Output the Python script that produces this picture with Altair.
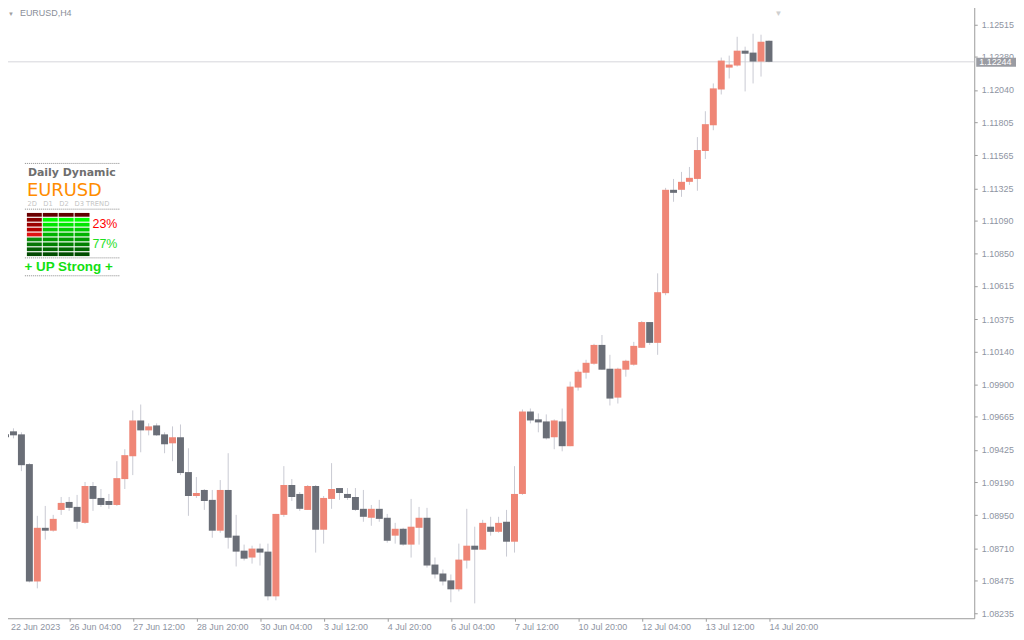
import altair as alt
import pandas as pd

# ---------------- data (EURUSD, H4) ----------------
opens = [1.09537, 1.09559, 1.09537, 1.09321, 1.08468, 1.08858, 1.08837, 1.08988, 1.09046, 1.09010,
         1.08894, 1.09162, 1.09075, 1.09053, 1.09024, 1.09212, 1.09378, 1.09638, 1.09566, 1.09602,
         1.09537, 1.09472, 1.09516, 1.09263, 1.09089, 1.09133, 1.09061, 1.08837, 1.09133, 1.08801,
         1.08692, 1.08642, 1.08707, 1.08685, 1.08360, 1.08952, 1.09169, 1.09104, 1.08988, 1.09162,
         1.08844, 1.09068, 1.09147, 1.09104, 1.09082, 1.08996, 1.08931, 1.08996, 1.08931, 1.08801,
         1.08851, 1.08736, 1.08858, 1.08931, 1.08591, 1.08526, 1.08476, 1.08411, 1.08620, 1.08728,
         1.08699, 1.08866, 1.08829, 1.08902, 1.08757, 1.09104, 1.09703, 1.09646, 1.09631, 1.09516,
         1.09631, 1.09451, 1.09877, 1.09985, 1.10050, 1.10187, 1.10014, 1.09804, 1.10007, 1.10043,
         1.10166, 1.10353, 1.10202, 1.10563, 1.11314, 1.11314, 1.11372, 1.11393, 1.11596, 1.11783,
         1.12043, 1.12202, 1.12217, 1.12325, 1.12311, 1.12246, 1.12397]

closes = [1.09516, 1.09530, 1.09313, 1.08468, 1.08858, 1.08837, 1.08923, 1.09039, 1.09003, 1.08902,
          1.09162, 1.09068, 1.09024, 1.09024, 1.09219, 1.09386, 1.09638, 1.09566, 1.09595, 1.09530,
          1.09465, 1.09516, 1.09256, 1.09089, 1.09111, 1.09053, 1.08837, 1.09133, 1.08786, 1.08685,
          1.08634, 1.08707, 1.08678, 1.08360, 1.08959, 1.09169, 1.09082, 1.08996, 1.09162, 1.08844,
          1.09075, 1.09140, 1.09111, 1.09075, 1.08988, 1.08938, 1.08996, 1.08923, 1.08764, 1.08851,
          1.08736, 1.08866, 1.08931, 1.08584, 1.08519, 1.08468, 1.08411, 1.08627, 1.08728, 1.08699,
          1.08894, 1.08829, 1.08894, 1.08757, 1.09104, 1.09703, 1.09638, 1.09624, 1.09508, 1.09638,
          1.09451, 1.09884, 1.09992, 1.10057, 1.10187, 1.10007, 1.09797, 1.10014, 1.10072, 1.10180,
          1.10353, 1.10202, 1.10570, 1.11314, 1.11292, 1.11372, 1.11401, 1.11603, 1.11791, 1.12051,
          1.12253, 1.12224, 1.12325, 1.12303, 1.12246, 1.12390, 1.12244]

highs = [1.09602, 1.09581, 1.09552, 1.09328, 1.08945, 1.09017, 1.08952, 1.09082, 1.09082, 1.09097,
         1.09191, 1.09191, 1.09140, 1.09104, 1.09342, 1.09429, 1.09711, 1.09754, 1.09617, 1.09617,
         1.09552, 1.09595, 1.09609, 1.09436, 1.09227, 1.09140, 1.09133, 1.09205, 1.09400, 1.08952,
         1.08736, 1.08728, 1.08743, 1.08743, 1.08959, 1.09306, 1.09212, 1.09118, 1.09169, 1.09169,
         1.09089, 1.09328, 1.09147, 1.09147, 1.09147, 1.09133, 1.09024, 1.09061, 1.08959, 1.08894,
         1.08858, 1.09068, 1.09010, 1.09003, 1.08642, 1.08555, 1.08519, 1.08743, 1.08996, 1.08866,
         1.08916, 1.08938, 1.08938, 1.08988, 1.09306, 1.09718, 1.09725, 1.09689, 1.09682, 1.09646,
         1.09725, 1.09920, 1.10007, 1.10079, 1.10195, 1.10259, 1.10115, 1.10021, 1.10079, 1.10209,
         1.10361, 1.10353, 1.10707, 1.11328, 1.11393, 1.11444, 1.11480, 1.11697, 1.11885, 1.12087,
         1.12275, 1.12289, 1.12426, 1.12354, 1.12448, 1.12441, 1.12400]

lows = [1.09479, 1.09508, 1.09270, 1.08461, 1.08418, 1.08772, 1.08830, 1.08952, 1.08981, 1.08851,
        1.08887, 1.08981, 1.09010, 1.08996, 1.09017, 1.09140, 1.09241, 1.09407, 1.09530, 1.09525,
        1.09400, 1.09342, 1.09241, 1.08945, 1.09075, 1.08988, 1.08786, 1.08822, 1.08707, 1.08577,
        1.08620, 1.08598, 1.08584, 1.08331, 1.08331, 1.08938, 1.09053, 1.08981, 1.08988, 1.08678,
        1.08743, 1.08996, 1.09061, 1.09061, 1.08981, 1.08902, 1.08873, 1.08902, 1.08750, 1.08743,
        1.08728, 1.08642, 1.08736, 1.08569, 1.08490, 1.08439, 1.08317, 1.08396, 1.08562, 1.08309,
        1.08699, 1.08801, 1.08822, 1.08649, 1.08678, 1.09097, 1.09617, 1.09552, 1.09500, 1.09429,
        1.09414, 1.09451, 1.09855, 1.09942, 1.10043, 1.10007, 1.09747, 1.09761, 1.09956, 1.10036,
        1.10166, 1.10187, 1.10115, 1.10548, 1.11227, 1.11263, 1.11350, 1.11307, 1.11538, 1.11747,
        1.12007, 1.12123, 1.12210, 1.12029, 1.12087, 1.12137, 1.12240]

x_tick_index = [0, 8, 16, 24, 32, 40, 48, 56, 64, 72, 80, 88, 96]
x_tick_labels = ["22 Jun 2023", "26 Jun 04:00", "27 Jun 12:00", "28 Jun 20:00", "30 Jun 04:00",
                 "3 Jul 12:00", "4 Jul 20:00", "6 Jul 04:00", "7 Jul 12:00", "10 Jul 20:00",
                 "12 Jul 04:00", "13 Jul 12:00", "14 Jul 20:00"]
y_ticks = [1.12515, 1.12280, 1.12040, 1.11805, 1.11565, 1.11325, 1.11090, 1.10850, 1.10615,
           1.10375, 1.10140, 1.09900, 1.09665, 1.09425, 1.09190, 1.08950, 1.08710, 1.08475, 1.08235]
last_price = 1.12244
symbol_title = "EURUSD,H4"

# indicator panel content
panel_title = "Daily Dynamic"
panel_symbol = "EURUSD"
panel_columns = ["2D", "D1", "D2", "D3", "TREND"]
panel_down_pct = "23%"
panel_up_pct = "77%"
panel_signal = "+ UP Strong +"
cells_col1 = ["#6a0000", "#880000", "#9c0000", "#b40000", "#e01414",
              "#0c8c0c", "#077607", "#045e04", "#034a03"]
cells_cols234 = ["#620000", "#00ff00", "#00e600", "#00cc00", "#00b300",
                 "#009a00", "#008000", "#006600", "#004e00"]

# ---------------- styles ----------------
UP = "#ef8676"
DOWN = "#6a6e77"
WICK = "#c9cad3"
AXIS = "#9b9b9b"
LABEL = "#8e94a2"
FONT = "Liberation Sans"

df = pd.DataFrame({"k": list(range(len(opens))), "open": opens, "high": highs,
                   "low": lows, "close": closes})
df["dir"] = ["up" if c >= o else "down" for o, c in zip(opens, closes)]

xscale = alt.Scale(domain=[-0.1875, 121.8125], nice=False, zero=False, padding=0)
yscale = alt.Scale(domain=[1.08201, 1.12665], nice=False, zero=False, padding=0)

label_expr = ("[" + ",".join("'%s'" % s for s in x_tick_labels) + "][indexof(["
              + ",".join(str(i) for i in x_tick_index) + "], datum.value)]")

xaxis = alt.Axis(orient="bottom", values=x_tick_index, labelExpr=label_expr, title=None,
                 grid=False, labelAlign="left", labelBaseline="top", labelPadding=1,
                 labelOffset={"expr": "datum.value == 0 ? 5 : 0"},
                 labelFont=FONT, labelFontSize=9, labelColor=LABEL, tickSize=3,
                 tickColor=AXIS, domainColor=AXIS, labelFlush=False, labelOverlap=False)
yaxis = alt.Axis(orient="right", values=y_ticks, format=".5f", title=None, grid=False,
                 labelPadding=4, labelFont=FONT, labelFontSize=9, labelColor=LABEL,
                 tickSize=3, tickColor=AXIS, domainColor=AXIS, labelFlush=False,
                 labelOverlap=False, labelBound=False)

price_line = alt.Chart(pd.DataFrame({"p": [last_price]})).mark_rule(
    color="#d6d6dc", strokeWidth=1).encode(y=alt.Y("p:Q", scale=yscale, axis=yaxis))

wicks = alt.Chart(df).mark_rule(color=WICK, strokeWidth=1).encode(
    x=alt.X("k:Q", scale=xscale, axis=xaxis),
    y=alt.Y("low:Q", scale=yscale, axis=yaxis),
    y2="high:Q")

bodies = alt.Chart(df).mark_bar(size=7).encode(
    x=alt.X("k:Q", scale=xscale, axis=xaxis),
    y=alt.Y("open:Q", scale=yscale, axis=yaxis),
    y2="close:Q",
    color=alt.Color("dir:N", scale=alt.Scale(domain=["up", "down"], range=[UP, DOWN]),
                    legend=None))

price_df = pd.DataFrame({"p": [last_price]})
price_box = alt.Chart(price_df).transform_calculate(
    hi="datum.p + 0.00030", lo="datum.p - 0.00036").mark_rect(color="#9a9ca3").encode(
    x=alt.value(978), x2=alt.value(1018),
    y=alt.Y("hi:Q", scale=yscale, axis=yaxis), y2="lo:Q")
price_txt = alt.Chart(price_df).mark_text(
    align="left", baseline="middle", font=FONT, fontSize=9, color="#ffffff").encode(
    x=alt.value(981), y=alt.Y("p:Q", scale=yscale, axis=yaxis),
    text=alt.Text("p:Q", format=".5f"))

dummy = pd.DataFrame({"d": [0]})


def txt(x, y, s, size, color, font=FONT, weight="normal"):
    return alt.Chart(dummy).mark_text(
        align="left", baseline="alphabetic", font=font, fontSize=size,
        fontWeight=weight, color=color).encode(
        x=alt.value(x), y=alt.value(y), text=alt.value(s))


def hrule(y, x1, x2, color="#8a8a8a", dash=None):
    kw = {"color": color, "strokeWidth": 1}
    if dash:
        kw["strokeDash"] = dash
    return alt.Chart(dummy).mark_rule(**kw).encode(
        x=alt.value(x1), x2=alt.value(x2), y=alt.value(y))


decor = []
decor.append(txt(4, 12.5, "\u25BC", 6, "#a0a0a0"))
decor.append(txt(16, 12.5, symbol_title, 9, "#8a8e98"))
decor.append(txt(775, 12, "\u25BC", 8, "#cfcfcf"))

# panel
for yy in [160.5, 206.5, 255.5, 273.5]:
    decor.append(hrule(yy, 21, 116, dash=[1, 1]))
decor.append(txt(24, 173.5, panel_title, 11, "#6e6e6e", font="DejaVu Sans", weight="bold"))
decor.append(txt(23, 193, panel_symbol, 18, "#ff8c00", font="DejaVu Sans"))
for cx, name in zip([23.5, 39.5, 55.5, 71, 82.5], panel_columns):
    decor.append(txt(cx, 203, name, 6.8, "#c6c6c6", font="DejaVu Sans"))
col_x = [23, 39, 55, 71]
for ci, cx in enumerate(col_x):
    colors = cells_col1 if ci == 0 else cells_cols234
    for ri, colr in enumerate(colors):
        y0 = 210.3 + 4.95 * ri
        decor.append(alt.Chart(dummy).mark_rect(color=colr).encode(
            x=alt.value(cx), x2=alt.value(cx + 15), y=alt.value(y0), y2=alt.value(y0 + 3.8)))
decor.append(txt(89, 225.7, panel_down_pct, 12.5, "#ff0000"))
decor.append(txt(89, 246, panel_up_pct, 12.5, "#1ee01e"))
decor.append(txt(20.5, 268.5, panel_signal, 13.5, "#12e012", weight="bold"))

chart = alt.layer(price_line, wicks, bodies, price_box, price_txt, *decor).properties(
    width=976, height=618,
    padding={"left": -6, "top": -6, "right": 0, "bottom": 0},
    background="#ffffff",
).configure_view(strokeWidth=0).configure_axis(
    labelFont=FONT, labelFontSize=9, labelColor=LABEL, tickColor=AXIS,
    domainColor=AXIS, tickSize=3, grid=False, labelOverlap=False
).configure_scale(continuousPadding=0)

chart.save("out.html", embed_options={"renderer": "svg", "actions": False})
